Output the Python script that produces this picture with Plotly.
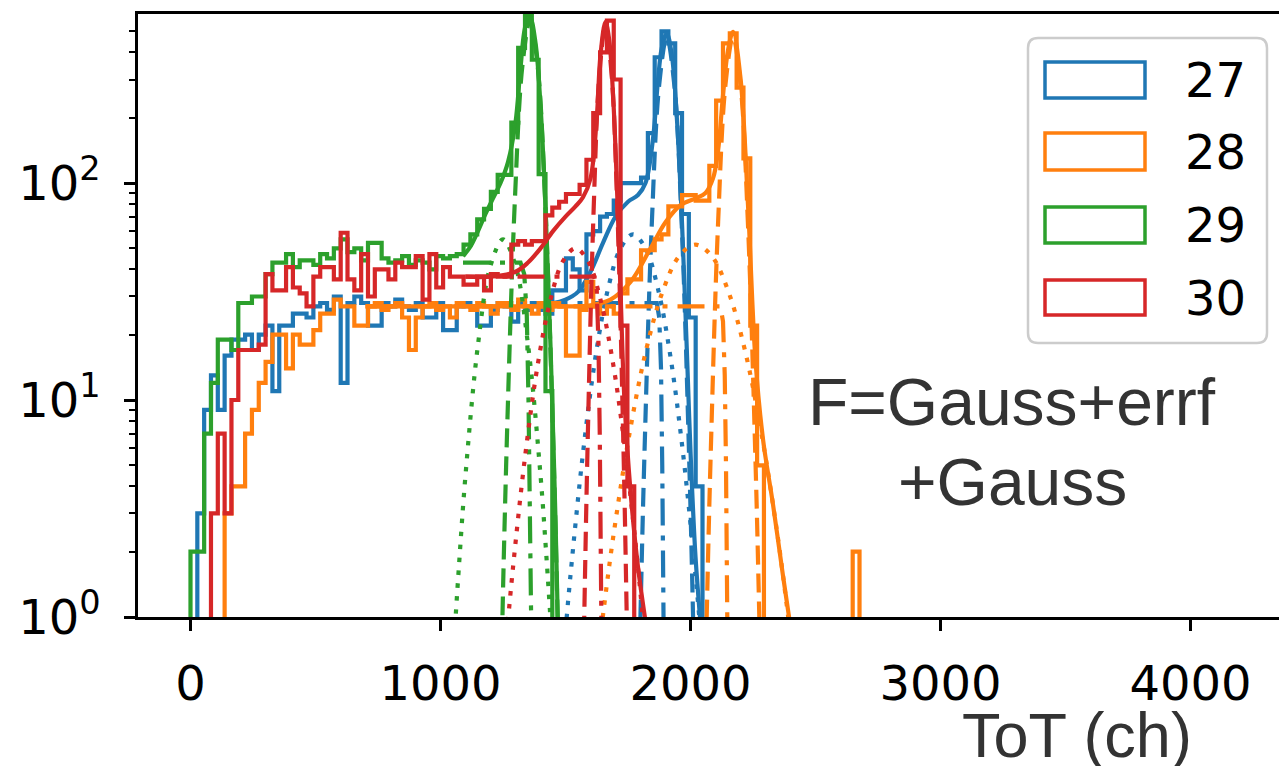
import numpy as np
import plotly.graph_objects as go

# ---------------- data ----------------
BIN_LO, BIN_HI, N_BINS = 0, 4096, 150          # histogram binning (ch)
channels = ["27", "28", "29", "30"]
colors = ["#1f77b4", "#ff7f0e", "#2ca02c", "#d62728"]

# counts for bins 0..99 (bins above 99 are empty)
counts_27 = [0, 3, 9, 13, 9, 16, 19, 19, 20, 17,
             20, 22, 11, 22, 22, 25, 25, 24, 27, 28,
             26, 30, 12, 28, 30, 28, 22, 22, 28, 27,
             29, 27, 26, 28, 24, 24, 28, 21, 21, 27,
             28, 27, 22, 22, 26, 28, 27, 23, 28, 26,
             28, 26, 25, 32, 32, 45, 40, 32, 58, 60,
             70, 72, 83, 100, 100, 100, 106, 170, 380, 500,
             440, 210, 72, 24, 4, 0, 0, 0, 0, 0,
             0, 0, 0, 0, 0, 0, 0, 0, 0, 0,
             0, 0, 0, 0, 0, 0, 0, 0, 0, 0]
counts_28 = [0, 0, 0, 0, 0, 3, 4, 4, 7, 9,
             12, 15, 20, 20, 14, 20, 18, 18, 21, 25,
             25, 29, 27, 27, 22, 22, 27, 28, 26, 27,
             28, 24, 17, 24, 27, 28, 26, 27, 24, 28,
             27, 26, 28, 27, 25, 28, 28, 26, 29, 27,
             25, 28, 26, 28, 27, 16, 16, 26, 35, 27,
             25, 27, 25, 31, 36, 36, 49, 49, 55, 58,
             78, 78, 88, 88, 83, 83, 120, 240, 440, 490,
             275, 130, 22, 5, 0, 0, 0, 0, 0, 0,
             0, 0, 0, 0, 0, 0, 0, 2, 0, 0]
counts_29 = [2, 2, 7, 12, 19, 19, 17, 28, 28, 30,
             30, 38, 43, 43, 47, 41, 44, 44, 42, 47,
             45, 50, 55, 48, 50, 44, 53, 53, 45, 43,
             44, 46, 42, 44, 43, 40, 46, 45, 46, 47,
             52, 58, 68, 76, 91, 109, 109, 190, 420, 590,
             370, 110, 11, 0, 0, 0, 0, 0, 0, 0,
             0, 0, 0, 0, 0, 0, 0, 0, 0, 0,
             0, 0, 0, 0, 0, 0, 0, 0, 0, 0,
             0, 0, 0, 0, 0, 0, 0, 0, 0, 0,
             0, 0, 0, 0, 0, 0, 0, 0, 0, 0]
counts_30 = [0, 0, 0, 3, 7, 3, 10, 17, 17, 17,
             18, 38, 32, 32, 41, 33, 31, 27, 37, 41,
             41, 36, 59, 36, 32, 47, 30, 40, 40, 36,
             43, 41, 41, 46, 29, 47, 33, 41, 37, 37,
             34, 34, 37, 32, 38, 37, 37, 52, 54, 52,
             54, 54, 71, 77, 82, 89, 89, 98, 128, 210,
             400, 560, 300, 22, 4, 0, 0, 0, 0, 0,
             0, 0, 0, 0, 0, 0, 0, 0, 0, 0,
             0, 0, 0, 0, 0, 0, 0, 0, 0, 0,
             0, 0, 0, 0, 0, 0, 0, 0, 0, 0]

# fitted curves: total F (solid), main Gauss (dashed),
# errf step (dash-dot), second Gauss (dotted)
total_27_x = [1400, 1450, 1500, 1550, 1600, 1650, 1700, 1750, 1790, 1820, 1850, 1870, 1885, 1905, 1925, 1945, 1965, 1985, 2000, 2020, 2045]
total_27_y = [28, 28, 29, 31.5, 39, 53, 70, 82, 88, 100, 160, 298, 418, 490, 391, 203, 70, 17.4, 5.8, 1.9, 0.8]
gauss_27_x = [1790, 1800, 1815, 1845, 1875, 1905, 1935, 1965, 1995, 2010, 2020]
gauss_27_y = [0.3, 1.03, 5.2, 64, 285, 470, 285, 64, 5.2, 1.03, 0.3]
errf_27_x = [1400, 1865, 1875, 1882, 1887, 1891, 1895]
errf_27_y = [28, 28, 24, 14, 5, 1.5, 0.4]
gauss2_27_x = [1500, 1520, 1570, 1620, 1670, 1720, 1770, 1820, 1870, 1920, 1970, 2020, 2040]
gauss2_27_y = [0.86, 1.56, 5.7, 15.8, 32.5, 50, 58, 50, 32.5, 15.8, 5.7, 1.56, 0.86]

total_28_x = [700, 1000, 1300, 1500, 1600, 1680, 1760, 1840, 1900, 1960, 2020, 2060, 2090, 2110, 2130, 2150, 2170, 2200, 2230, 2260, 2290, 2330, 2370, 2400]
total_28_y = [27, 27, 27, 27, 27.3, 29, 35, 50, 66, 79, 85, 90, 105, 140, 254, 409, 497, 305, 79, 15.2, 6.6, 3.3, 1.55, 0.9]
gauss_28_x = [2055, 2065, 2080, 2110, 2140, 2170, 2200, 2230, 2260, 2275, 2285]
gauss_28_y = [0.3, 1.03, 5.2, 64, 285, 470, 285, 64, 5.2, 1.03, 0.3]
errf_28_x = [700, 2120, 2130, 2137, 2142, 2146, 2150]
errf_28_y = [27, 27, 23, 13, 5, 1.5, 0.4]
gauss2_28_x = [1630, 1650, 1690, 1756, 1822, 1888, 1954, 2020, 2086, 2152, 2218, 2284, 2350, 2390, 2410]
gauss2_28_y = [0.66, 1.02, 2.3, 7.0, 16.9, 31.5, 45.9, 52, 45.9, 31.5, 16.9, 7.0, 2.3, 1.02, 0.66]

total_29_x = [1090, 1120, 1150, 1180, 1210, 1240, 1270, 1300, 1320, 1340, 1358, 1380, 1400, 1420, 1440, 1460, 1475]
total_29_y = [46, 51, 60, 72, 85, 100, 125, 190, 339, 530, 580, 443, 228, 78, 17.8, 2.8, 0.5]
gauss_29_x = [1240, 1248, 1268, 1298, 1328, 1358, 1388, 1418, 1448, 1468, 1476]
gauss_29_y = [0.31, 1.03, 8.3, 86, 351, 560, 351, 86, 8.3, 1.03, 0.31]
errf_29_x = [1090, 1320, 1335, 1345, 1352, 1358, 1363, 1368]
errf_29_y = [43, 43, 38, 25, 10, 3, 1, 0.3]
gauss2_29_x = [1058, 1075, 1100, 1150, 1200, 1250, 1300, 1350, 1400, 1425, 1442]
gauss2_29_y = [0.9, 1.8, 4.5, 18, 41.6, 55, 41.6, 18, 4.5, 1.8, 0.9]

total_30_x = [1100, 1200, 1300, 1350, 1400, 1450, 1500, 1540, 1570, 1600, 1625, 1640, 1660, 1675, 1690, 1705, 1720, 1735, 1760, 1790, 1830]
total_30_y = [37, 37, 39, 43, 50, 60, 70, 78, 86, 105, 200, 390, 553, 455, 258, 102, 32, 10.4, 3.8, 1.7, 0.8]
gauss_30_x = [1568, 1575, 1588, 1612, 1636, 1660, 1684, 1708, 1732, 1745, 1752]
gauss_30_y = [0.34, 1.0, 5.9, 72, 321, 530, 321, 72, 5.9, 1.0, 0.34]
errf_30_x = [1100, 1615, 1625, 1632, 1637, 1641, 1645]
errf_30_y = [37, 37, 32, 18, 7, 2, 0.6]
gauss2_30_x = [1265, 1290, 1340, 1390, 1440, 1490, 1540, 1590, 1640, 1690, 1740, 1790, 1815]
gauss2_30_y = [0.83, 1.69, 5.7, 14.8, 29, 43.7, 50, 43.7, 29, 14.8, 5.7, 1.69, 0.83]

x_ticks = [0, 1000, 2000, 3000, 4000]
y_ticks = [1, 10, 100]
y_ticktext = ["10<sup>0</sup>", "10<sup>1</sup>", "10<sup>2</sup>"]
x_title = "ToT (ch)"
note_lines = ["F=Gauss+errf", "+Gauss"]

# ---------------- figure ----------------
W, H = 1279, 766
ML, MR, MT, MB = 138, 0, 14, 149
PW, PH = W - ML - MR, H - MT - MB


def pxx(x):
    return (x - ML) / PW


def pxy(y):
    return (H - MB - y) / PH


edges = np.linspace(BIN_LO, BIN_HI, N_BINS + 1)
hists = [counts_27, counts_28, counts_29, counts_30]
fits = [
    (total_27_x, total_27_y, gauss_27_x, gauss_27_y, errf_27_x, errf_27_y, gauss2_27_x, gauss2_27_y),
    (total_28_x, total_28_y, gauss_28_x, gauss_28_y, errf_28_x, errf_28_y, gauss2_28_x, gauss2_28_y),
    (total_29_x, total_29_y, gauss_29_x, gauss_29_y, errf_29_x, errf_29_y, gauss2_29_x, gauss2_29_y),
    (total_30_x, total_30_y, gauss_30_x, gauss_30_y, errf_30_x, errf_30_y, gauss2_30_x, gauss2_30_y),
]

LW = 4.2
DASH = "19px,9px"
DASHDOT = "27px,10px,5px,10px"
DOT = "4.5px,8.5px"

fig = go.Figure()
for name, col, cnt, fit in zip(channels, colors, hists, fits):
    c = np.array(cnt, dtype=float)
    c = np.where(c > 0, c, 1e-3)  # empty bins fall below the log axis
    n = len(c)
    xs = np.concatenate([[edges[0]], edges[:n + 1]])
    ys = np.concatenate([[1e-3], c, [1e-3]])
    fig.add_trace(go.Scatter(x=xs, y=ys, mode="lines", name=name,
                             line=dict(color=col, width=LW, shape="hv"),
                             showlegend=False, hoverinfo="skip"))
    tx, ty, gx, gy, ex, ey, g2x, g2y = fit
    fig.add_trace(go.Scatter(x=tx, y=ty, mode="lines", showlegend=False,
                             line=dict(color=col, width=LW, shape="spline")))
    fig.add_trace(go.Scatter(x=gx, y=gy, mode="lines", showlegend=False,
                             line=dict(color=col, width=LW, shape="spline", dash=DASH)))
    fig.add_trace(go.Scatter(x=ex, y=ey, mode="lines", showlegend=False,
                             line=dict(color=col, width=LW, dash=DASHDOT)))
    fig.add_trace(go.Scatter(x=g2x, y=g2y, mode="lines", showlegend=False,
                             line=dict(color=col, width=LW, shape="spline", dash=DOT)))

# ---- legend drawn as shapes ----
shapes = []
x0, y0, x1, y1, r = 1028, 38, 1267, 343, 10
pts = [("M", x0 + r, y0), ("L", x1 - r, y0), ("Q", x1, y0, x1, y0 + r),
       ("L", x1, y1 - r), ("Q", x1, y1, x1 - r, y1), ("L", x0 + r, y1),
       ("Q", x0, y1, x0, y1 - r), ("L", x0, y0 + r), ("Q", x0, y0, x0 + r, y0)]
path = ""
for p in pts:
    cmd = p[0]
    coords = p[1:]
    s = []
    for i in range(0, len(coords), 2):
        s.append(f"{pxx(coords[i]):.5f},{pxy(coords[i + 1]):.5f}")
    path += cmd + " " + " ".join(s) + " "
path += "Z"
shapes.append(dict(type="path", path=path, xref="paper", yref="paper",
                   line=dict(color="#cccccc", width=2.5), fillcolor="rgba(255,255,255,0.8)",
                   layer="above"))
rows = [(62, 98), (133, 170), (207, 243), (280, 315)]
annotations = []
for (ya, yb), col, name in zip(rows, colors, channels):
    shapes.append(dict(type="rect", xref="paper", yref="paper",
                       x0=pxx(1045), x1=pxx(1145), y0=pxy(yb), y1=pxy(ya),
                       line=dict(color=col, width=3.5), fillcolor="rgba(0,0,0,0)",
                       layer="above"))
    annotations.append(dict(text=name, xref="paper", yref="paper",
                            x=pxx(1183), y=pxy((ya + yb) / 2), xanchor="left",
                            yanchor="middle", showarrow=False,
                            font=dict(family="DejaVu Sans", size=48, color="black")))

annotations.append(dict(text=note_lines[0], xref="paper", yref="paper",
                        x=pxx(1012), y=pxy(402), xanchor="center", yanchor="middle",
                        showarrow=False,
                        font=dict(family="Liberation Sans", size=66, color="#333333")))
annotations.append(dict(text=note_lines[1], xref="paper", yref="paper",
                        x=pxx(1012), y=pxy(482), xanchor="center", yanchor="middle",
                        showarrow=False,
                        font=dict(family="Liberation Sans", size=66, color="#333333")))
annotations.append(dict(text=x_title, xref="paper", yref="paper",
                        x=pxx(1077), y=pxy(735), xanchor="center", yanchor="middle",
                        showarrow=False,
                        font=dict(family="Liberation Sans", size=63, color="#333333")))

minor_vals = [v * m for m in (1, 10, 100) for v in range(2, 10) if v * m < 600]

fig.update_layout(
    width=W, height=H,
    margin=dict(l=ML, r=MR, t=MT, b=MB, pad=0),
    paper_bgcolor="white", plot_bgcolor="white",
    font=dict(family="DejaVu Sans", color="black"),
    showlegend=False,
    shapes=shapes, annotations=annotations,
    xaxis=dict(range=[-210, 4354], tickvals=x_ticks, ticks="outside", ticklen=11,
               tickwidth=2.5, tickcolor="black", showline=True, linewidth=2.5,
               linecolor="black", mirror=True, showgrid=False, zeroline=False,
               tickfont=dict(size=48, family="DejaVu Sans", color="black"),
               ticklabelstandoff=12),
    yaxis=dict(type="log", range=[0, 2.779], tickvals=y_ticks, ticktext=y_ticktext,
               ticks="outside", ticklen=11, tickwidth=2.5, tickcolor="black",
               showline=True, linewidth=2.5, linecolor="black", mirror=False,
               showgrid=False, zeroline=False,
               tickfont=dict(size=48, family="DejaVu Sans", color="black"),
               ticklabelstandoff=14,
               minor=dict(tickvals=minor_vals, ticks="outside", ticklen=6,
                          tickwidth=2, tickcolor="black", showgrid=False)),
)

fig.write_html("out.html")
